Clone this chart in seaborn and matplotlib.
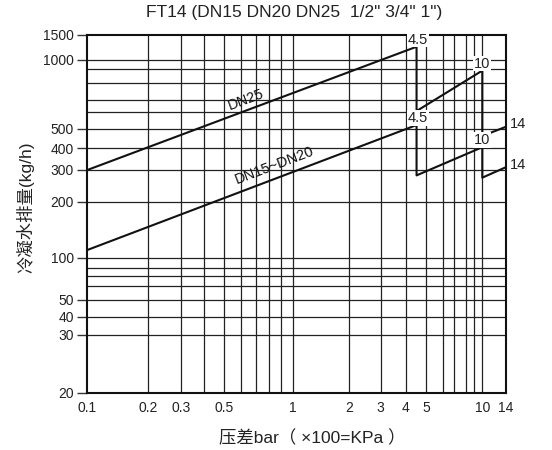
import numpy as np
import pandas as pd
import matplotlib
matplotlib.use("Agg")
import matplotlib.pyplot as plt
import seaborn as sns

# ---------------- data ----------------
series_names = ["DN25", "DN15~DN20"]
dn25_dp = [0.1, 4.5, 4.5, 10, 10, 14]
dn25_flow = [300, 1240, 605, 890, 460, 510]
dn15_dp = [0.1, 4.5, 4.5, 10, 10, 14]
dn15_flow = [110, 520, 280, 405, 272, 311]

x_tick_vals = [0.1, 0.2, 0.3, 0.5, 1, 2, 3, 4, 5, 10, 14]
x_tick_labels = ["0.1", "0.2", "0.3", "0.5", "1", "2", "3", "4", "5", "10", "14"]
x_grid_vals = [0.2, 0.3, 0.4, 0.5, 0.6, 0.7, 0.8, 0.9, 1, 2, 3, 4, 5, 6, 7, 8, 9, 10]
y_tick_vals = [20, 30, 40, 50, 100, 200, 300, 400, 500, 1000, 1500]
y_tick_labels = ["20", "30", "40", "50", "100", "200", "300", "400", "500", "1000", "1500"]
y_grid_vals = [30, 40, 50, 60, 70, 80, 100, 200, 300, 400, 500, 600, 700, 800, 900, 1000]

# scale of the printed chart paper (value -> relative position along the axis)
x_scale_vals = [0.1, 0.2, 0.3, 0.4, 0.5, 0.6, 0.7, 0.8, 0.9, 1, 2, 3, 4, 5, 6, 7, 8, 9, 10, 14]
x_scale_pos = [87.3, 147.7, 180.7, 204, 224.3, 241, 256, 268.7, 280.7, 293.3,
               349.3, 380.7, 406, 426, 442.7, 454.3, 466, 474.3, 482.3, 505.7]
y_scale_vals = [20, 30, 40, 50, 60, 70, 80, 100, 200, 300, 400, 500, 600, 700, 800, 900, 1000, 1500]
y_scale_pos = [392.7, 335, 316.7, 299.7, 286.3, 276.3, 267.7, 257.7, 201.7, 170,
               148.3, 128.7, 111.7, 99.7, 83, 69.3, 60, 35]

# ---------------- scales ----------------
xl = np.log10(x_scale_vals)
xp = np.array(x_scale_pos)
yl = np.log10(y_scale_vals)
yp = -np.array(y_scale_pos)


def fx(v):
    return np.interp(np.log10(np.clip(v, 1e-9, None)), xl, xp)


def ix(p):
    return 10 ** np.interp(p, xp, xl)


def fy(v):
    return np.interp(np.log10(np.clip(v, 1e-9, None)), yl, yp)


def iy(p):
    return 10 ** np.interp(p, yp, yl)


sns.set_style("ticks")
plt.rcParams["font.family"] = ["Liberation Sans", "Noto Sans CJK SC", "DejaVu Sans"]

W, H = 552, 450
fig = plt.figure(figsize=(W / 100, H / 100), dpi=100)
ax = fig.add_axes([87.3 / W, 1 - 392.7 / H, (505.7 - 87.3) / W, (392.7 - 35) / H])

ax.set_xscale("function", functions=(fx, ix))
ax.set_yscale("function", functions=(fy, iy))
ax.set_xlim(0.1, 14)
ax.set_ylim(20, 1500)

# grid lines of the chart paper
for v in x_grid_vals:
    ax.axvline(v, color="#222222", linewidth=0.9, zorder=1)
for v in y_grid_vals:
    ax.axhline(v, color="#222222", linewidth=0.9, zorder=1)

df = pd.concat([
    pd.DataFrame({"dp": dn25_dp, "flow": dn25_flow, "size": series_names[0]}),
    pd.DataFrame({"dp": dn15_dp, "flow": dn15_flow, "size": series_names[1]}),
])
sns.lineplot(data=df, x="dp", y="flow", units="size", estimator=None, sort=False,
             color="#111111", linewidth=1.5, ax=ax, legend=False, zorder=3)

ax.set_xlim(0.1, 14)
ax.set_ylim(20, 1500)

# ticks
ax.set_xticks(x_tick_vals)
ax.set_xticklabels(x_tick_labels)
ax.set_yticks(y_tick_vals)
ax.set_yticklabels(y_tick_labels)
ax.minorticks_off()
ax.tick_params(axis="x", which="major", length=0, pad=6, labelsize=10, labelcolor="#222222")
ax.tick_params(axis="y", which="major", length=7.5, width=1.0, color="#333333", pad=2,
               labelsize=10, labelcolor="#222222")
ax.grid(False)
for s in ax.spines.values():
    s.set_color("#111111")
    s.set_linewidth(1.5)
ax.set_xlabel("")
ax.set_ylabel("")

# line labels placed along each line
fig.canvas.draw()


def along(xs, ys, t):
    p0 = ax.transData.transform((xs[0], ys[0]))
    p1 = ax.transData.transform((xs[1], ys[1]))
    pt = p0 + t * (p1 - p0)
    ang = np.degrees(np.arctan2(p1[1] - p0[1], p1[0] - p0[0]))
    return ax.transData.inverted().transform(pt), ang


for name, xs, ys, t, off in [(series_names[0], dn25_dp, dn25_flow, 0.49, 2.5),
                             (series_names[1], dn15_dp, dn15_flow, 0.575, 4.5)]:
    pos, ang = along(xs, ys, t)
    ax.annotate(name, xy=pos, xytext=(0, off), textcoords="offset points",
                rotation=ang, ha="center", va="bottom", fontsize=10.5, color="#111111",
                rotation_mode="anchor", zorder=4)

box = dict(facecolor="white", edgecolor="none", pad=0.5)
for xs, ys in [(dn25_dp, dn25_flow), (dn15_dp, dn15_flow)]:
    ax.annotate("4.5", xy=(xs[1], ys[1]), xytext=(1, 0), textcoords="offset points",
                ha="center", va="bottom", fontsize=10.5, color="#222222", bbox=box,
                annotation_clip=False, zorder=4)
    ax.annotate("10", xy=(xs[3], ys[3]), xytext=(0, 0), textcoords="offset points",
                ha="center", va="bottom", fontsize=10.5, color="#222222", bbox=box,
                annotation_clip=False, zorder=4)
    ax.annotate("14", xy=(xs[5], ys[5]), xytext=(3, 2), textcoords="offset points",
                ha="left", va="center", fontsize=10.5, color="#222222", bbox=box,
                annotation_clip=False, zorder=4)

# titles
fig.text(294 / W, 1 - 13 / H, 'FT14 (DN15 DN20 DN25  1/2" 3/4" 1")', ha="center",
         va="center", fontsize=12.5, color="#222222")
fig.text(25 / W, 1 - 207 / H, "冷凝水排量(kg/h)", rotation=90, ha="center", va="center",
         fontsize=12.5, color="#222222")
fig.text(312 / W, 1 - 438 / H, "压差bar（ ×100=KPa ）", ha="center", va="center",
         fontsize=12.5, color="#222222")

fig.savefig("out.png", dpi=100)
